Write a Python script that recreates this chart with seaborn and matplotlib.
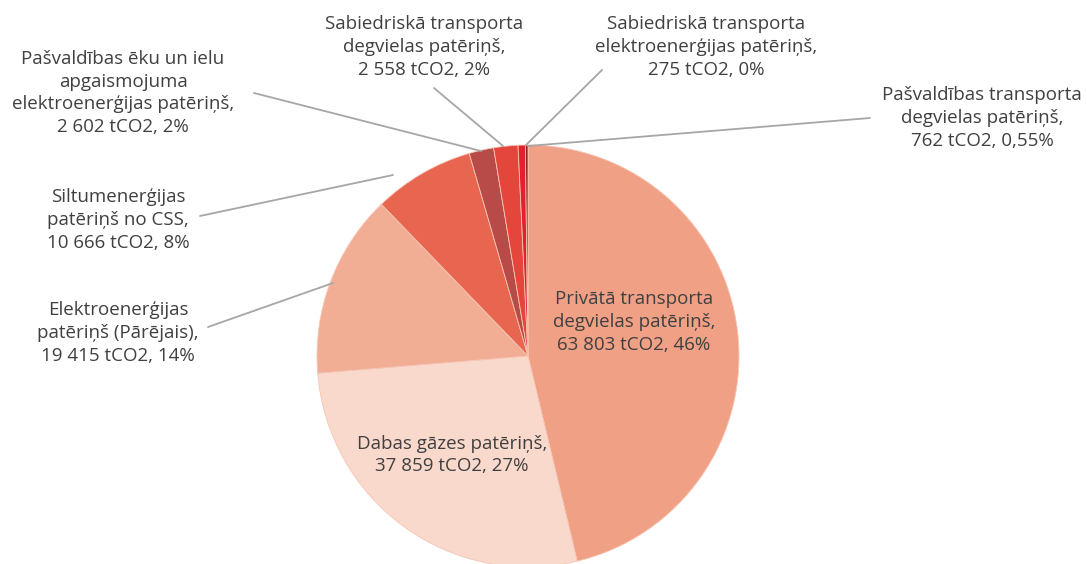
import matplotlib
matplotlib.use("Agg")
import matplotlib.pyplot as plt
import seaborn as sns

# dati (tCO2)
names = [
    "Privātā transporta\ndegvielas patēriņš,",
    "Dabas gāzes patēriņš,",
    "Elektroenerģijas\npatēriņš (Pārējais),",
    "Siltumenerģijas\npatēriņš no CSS,",
    "Pašvaldības ēku un ielu\napgaismojuma\nelektroenerģijas patēriņš,",
    "Sabiedriskā transporta\ndegvielas patēriņš,",
    "Pašvaldības transporta\ndegvielas patēriņš,",
    "Sabiedriskā transporta\nelektroenerģijas patēriņš,",
]
values = [63803, 37859, 19415, 10666, 2602, 2558, 762, 275]
percents = ["46%", "27%", "14%", "8%", "2%", "2%", "0,55%", "0%"]
colors = ["#F0A085", "#F9D9CC", "#F2AD95", "#E8654F",
          "#B84B47", "#E5463B", "#E3202B", "#8C1F1F"]

# label positions in pixels (centre of text) and leader line ends
label_px = [(634, 322), (452, 455), (118, 333), (118, 220),
            (123, 93), (424, 47), (982, 118), (706, 47)]
leader_px = [None, None,
             ((208, 327), (333, 283)),
             ((200, 216), (393, 175)),
             ((254, 93), (481, 151)),
             ((434, 88), (503, 146)),
             ((870, 118), (528, 146)),
             ((602, 70), (526, 145))]

sns.set_theme(style="white")
plt.rcParams["font.family"] = ["Open Sans", "DejaVu Sans"]

W, H = 1087, 564
cx, cy, R = 528, 356, 211

fig = plt.figure(figsize=(W / 100, H / 100), dpi=100)
ax = fig.add_axes([0, 0, 1, 1])
ax.pie(values, colors=colors, startangle=90, counterclock=False,
       radius=1, center=(0, 0), frame=True,
       wedgeprops=dict(linewidth=0.6, edgecolor="#F6C6B6"))
ax.set_xlim(-cx / R, (W - cx) / R)
ax.set_ylim(-(H - cy) / R, cy / R)
ax.set_aspect("equal")
ax.axis("off")


def to_data(p):
    return ((p[0] - cx) / R, (cy - p[1]) / R)


for name, val, pct, pos, lead in zip(names, values, percents, label_px, leader_px):
    txt = name + "\n" + f"{val:,}".replace(",", " ") + f" tCO2, {pct}"
    x, y = to_data(pos)
    ax.text(x, y, txt, ha="center", va="center", fontsize=13.5,
            color="#404040", linespacing=1.33)
    if lead is not None:
        (x0, y0), (x1, y1) = to_data(lead[0]), to_data(lead[1])
        ax.plot([x0, x1], [y0, y1], color="#A6A6A6", lw=1.3)

fig.savefig("out.png", dpi=100)
